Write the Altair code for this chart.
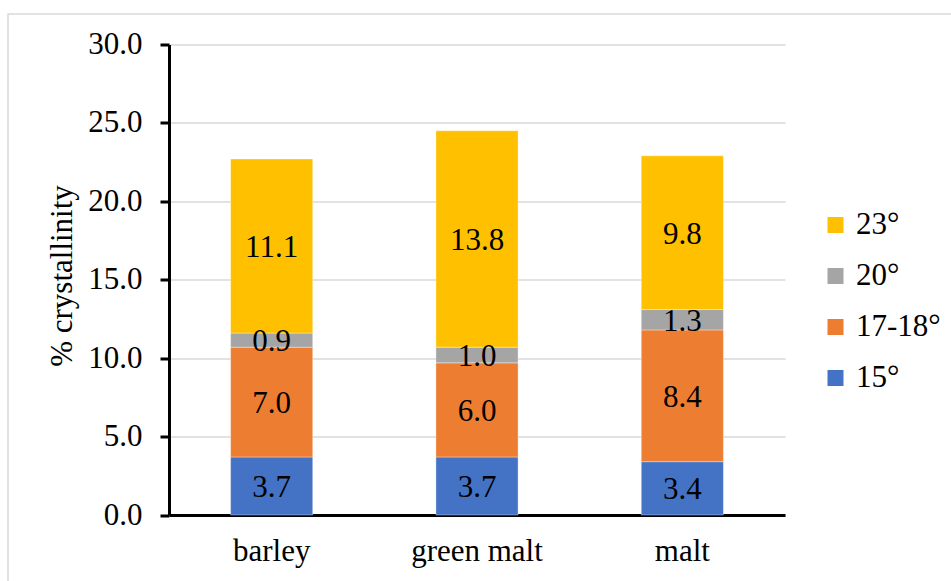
import altair as alt
import pandas as pd

# Crystallinity contribution (%) of each diffraction peak, per sample
samples = ["barley", "green malt", "malt"]
peaks = ["15°", "17-18°", "20°", "23°"]
peak_15 = [3.7, 3.7, 3.4]
peak_17_18 = [7.0, 6.0, 8.4]
peak_20 = [0.9, 1.0, 1.3]
peak_23 = [11.1, 13.8, 9.8]

colors = ["#FFC000", "#A5A5A5", "#ED7D31", "#4472C4"]  # 23°, 20°, 17-18°, 15°
legend_order = ["23°", "20°", "17-18°", "15°"]

rows = []
for series_idx, (peak, vals) in enumerate(zip(peaks, [peak_15, peak_17_18, peak_20, peak_23])):
    for s, v in zip(samples, vals):
        rows.append({"sample": s, "peak": peak, "value": v, "k": series_idx})
df = pd.DataFrame(rows)

FONT = "Liberation Serif"
FS = 31

base = alt.Chart(df).encode(
    x=alt.X(
        "sample:N",
        sort=samples,
        scale=alt.Scale(paddingInner=0.6, paddingOuter=0.3),
        axis=alt.Axis(
            title=None,
            domainColor="black",
            domainWidth=3,
            ticks=False,
            labelAngle=0,
            labelFont=FONT,
            labelFontSize=FS,
            labelColor="black",
            labelPadding=21,
            grid=False,
        ),
    )
)

bars = base.mark_bar(stroke="white", strokeWidth=0.6, strokeOpacity=0.6).encode(
    y=alt.Y(
        "value:Q",
        stack="zero",
        scale=alt.Scale(domain=[0, 30], nice=False),
        axis=alt.Axis(
            title="% crystallinity",
            values=[0, 5, 10, 15, 20, 25, 30],
            format=".1f",
            domainColor="black",
            domainWidth=3,
            tickColor="black",
            tickWidth=3,
            tickSize=9,
            labelFont=FONT,
            labelFontSize=FS,
            labelColor="black",
            labelPadding=18,
            gridColor="#D9D9D9",
            gridWidth=1.5,
            titleFont=FONT,
            titleFontSize=FS,
            titleFontWeight="normal",
            titleColor="black",
            titleAngle=-90,
            titleAlign="center",
            titleBaseline="middle",
            titleX=-107,
            titleY=231,
        ),
    ),
    color=alt.Color(
        "peak:N",
        scale=alt.Scale(domain=legend_order, range=colors),
        legend=alt.Legend(
            title=None,
            orient="none",
            legendX=651,
            legendY=165,
            symbolType="square",
            symbolSize=256,
            symbolStrokeWidth=0,
            labelFont=FONT,
            labelFontSize=FS,
            labelColor="black",
            labelOffset=5,
            rowPadding=19,
        ),
    ),
    order=alt.Order("k:Q", sort="ascending"),
)

labels = base.transform_window(
    cum="sum(value)", groupby=["sample"], sort=[alt.SortField("k", order="ascending")]
).transform_calculate(
    mid="datum.cum - datum.value / 2"
).mark_text(
    font=FONT, fontSize=FS, color="black", baseline="middle", dy=2
).encode(
    y=alt.Y("mid:Q", scale=alt.Scale(domain=[0, 30], nice=False)),
    text=alt.Text("value:Q", format=".1f"),
)

# light outer frame around the whole figure
frame = alt.Chart(pd.DataFrame({"a": [0]})).mark_rect(
    fill=None, stroke="#D9D9D9", strokeWidth=1.5, clip=False
).encode(
    x=alt.value(-161), x2=alt.value(900), y=alt.value(-30.5), y2=alt.value(600)
)

chart = alt.layer(frame, bars, labels).properties(
    width=616,
    height=470.5,
    background="white",
    autosize=alt.AutoSizeParams(type="none"),
    padding={"left": 169, "top": 44.5, "right": 166, "bottom": 66},
).configure_view(strokeWidth=0)

chart.save("out.html", embed_options={"renderer": "svg", "actions": False})
